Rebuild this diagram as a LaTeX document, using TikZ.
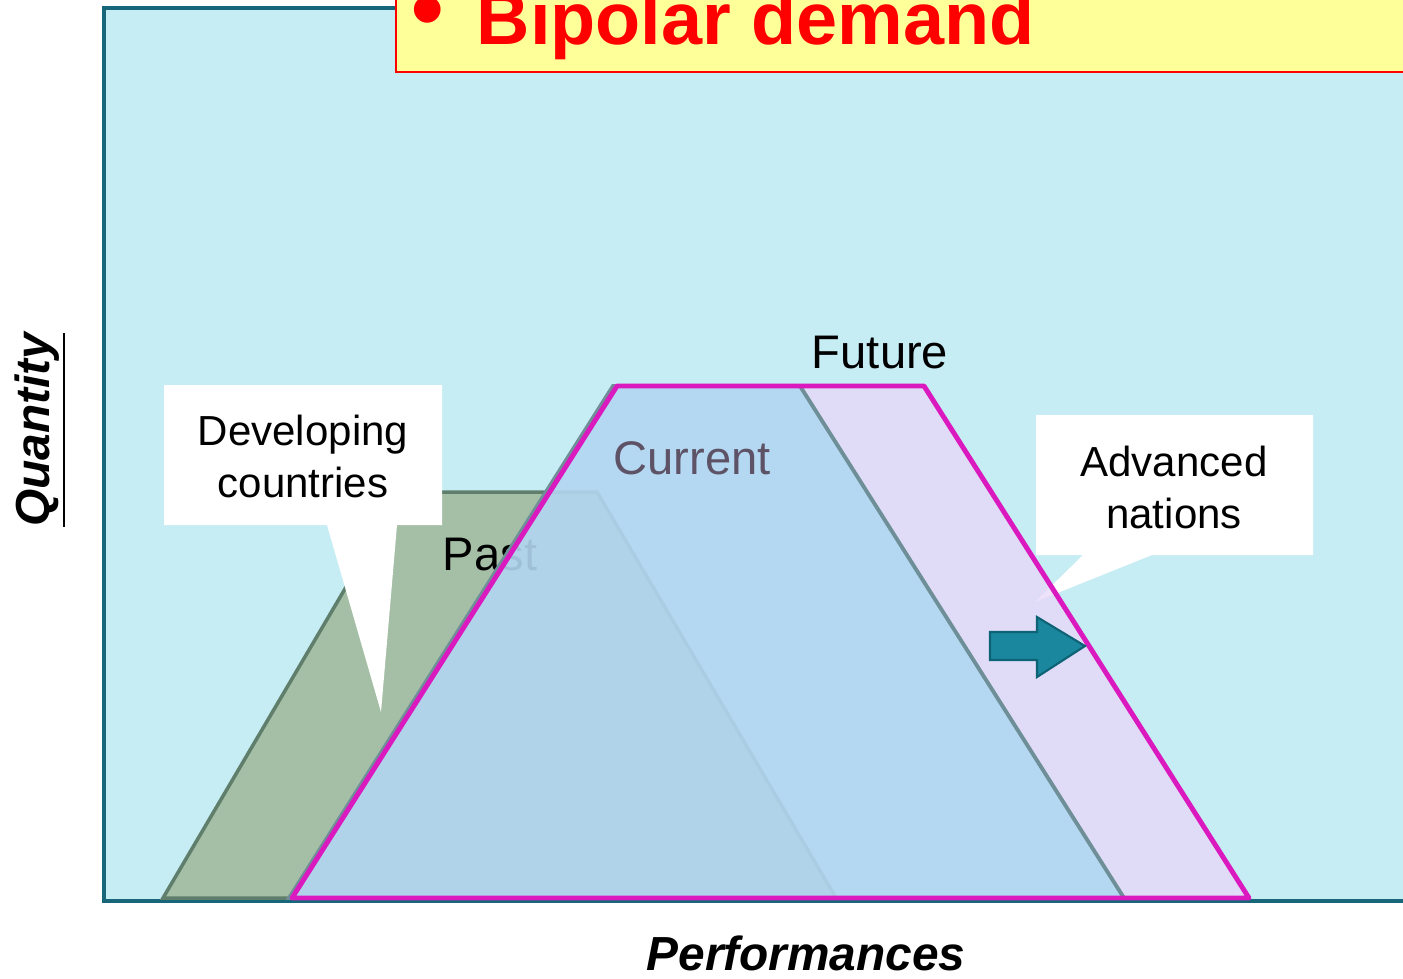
\documentclass[tikz,border=0pt]{standalone}
\usepackage{fontspec}
\setmainfont{Liberation Sans}
\usepackage{tikz}
\usetikzlibrary{positioning}

\definecolor{bgcyan}{HTML}{C6ECF4}
\definecolor{frameteal}{HTML}{17667A}
\definecolor{pastgreen}{HTML}{A5BFA6}
\definecolor{pastedge}{HTML}{5F7E6C}
\definecolor{curblue}{HTML}{98D6EE}
\definecolor{curedge}{HTML}{6F8F98}
\definecolor{futlav}{HTML}{E9D7F9}
\definecolor{futpink}{HTML}{DA1ABF}
\definecolor{titleyellow}{HTML}{FFFF99}
\definecolor{arrowteal}{HTML}{1A879F}
\definecolor{arrowedge}{HTML}{0E6275}
\definecolor{curtext}{HTML}{5E5266}

\begin{document}
\begin{tikzpicture}[x=0.01cm, y=-0.01cm,
    lbl/.style={font=\fontsize{13.4}{16}\selectfont, inner sep=0pt},
    box/.style={font=\fontsize{11.95}{14.8}\selectfont, align=center, inner sep=0pt},
    axis/.style={font=\fontsize{13.6}{16}\selectfont\bfseries\itshape, inner sep=0pt}]
        \useasboundingbox (0,0) rectangle (1403,978);
        \fill[white] (0,0) rectangle (1403,978);
        \filldraw[fill=bgcyan, draw=frameteal, line width=1.3pt] (104,8) rectangle (1420,901);

        % past
        \filldraw[fill=pastgreen, draw=pastedge, line width=1pt] (163,898) -- (402,492) -- (597,492) -- (836,898) -- cycle;
        \node[lbl, anchor=base] (past) at (490,570) {Past};

        % callouts
        \fill[white] (164,385) -- (442,385) -- (442,525) -- (397,525) -- (381,712) -- (327,525) -- (164,525) -- cycle;
        \fill[white] (1036,415) -- (1313,415) -- (1313,555) -- (1152,555) -- (1035,602) -- (1083,555) -- (1036,555) -- cycle;
        \node[box] (dev) at (303,456) {Developing\\countries};
        \node[box] (adv) at (1174,487) {Advanced\\nations};

        % future and current
        \fill[futlav, opacity=0.75] (292,898) -- (617,386) -- (924,386) -- (1249,898) -- cycle;
        \filldraw[fill=curblue, fill opacity=0.6, draw=curedge, line width=1.1pt] (289,898) -- (613,386) -- (800,386) -- (1124,898) -- cycle;
        \draw[futpink, line width=1.4pt, line join=round] (292,898) -- (617,386) -- (924,386) -- (1249,898) -- cycle;
        \node[lbl, anchor=base, text=curtext] (cur) at (692,474) {Current};
        \node[lbl, anchor=base] (fut) at (880,368) {Future};

        % shift arrow
        \filldraw[fill=arrowteal, draw=arrowedge, line width=0.6pt, line join=miter]
          (990,632) -- (1037,632) -- (1037,617) -- (1085,646) -- (1037,677) -- (1037,660) -- (990,660) -- cycle;

        % title
        \filldraw[fill=titleyellow, draw=red, line width=0.5pt] (396,-20) rectangle (1420,72);
        \node[text=red, font=\fontsize{28}{30}\selectfont, inner sep=0pt] (bul) at (428,20) {•};
        \node[text=red, font=\fontsize{21}{24}\bfseries, anchor=base west, inner sep=0pt] (title) at (476,44) {Bıpolar demand};

        % axes
        \node[axis, rotate=90, anchor=base] (qty) at (49,430) {\underline{Quantity}};
        \node[axis, anchor=base] (perf) at (806,970) {Performances};
      \end{tikzpicture}
\end{document}
